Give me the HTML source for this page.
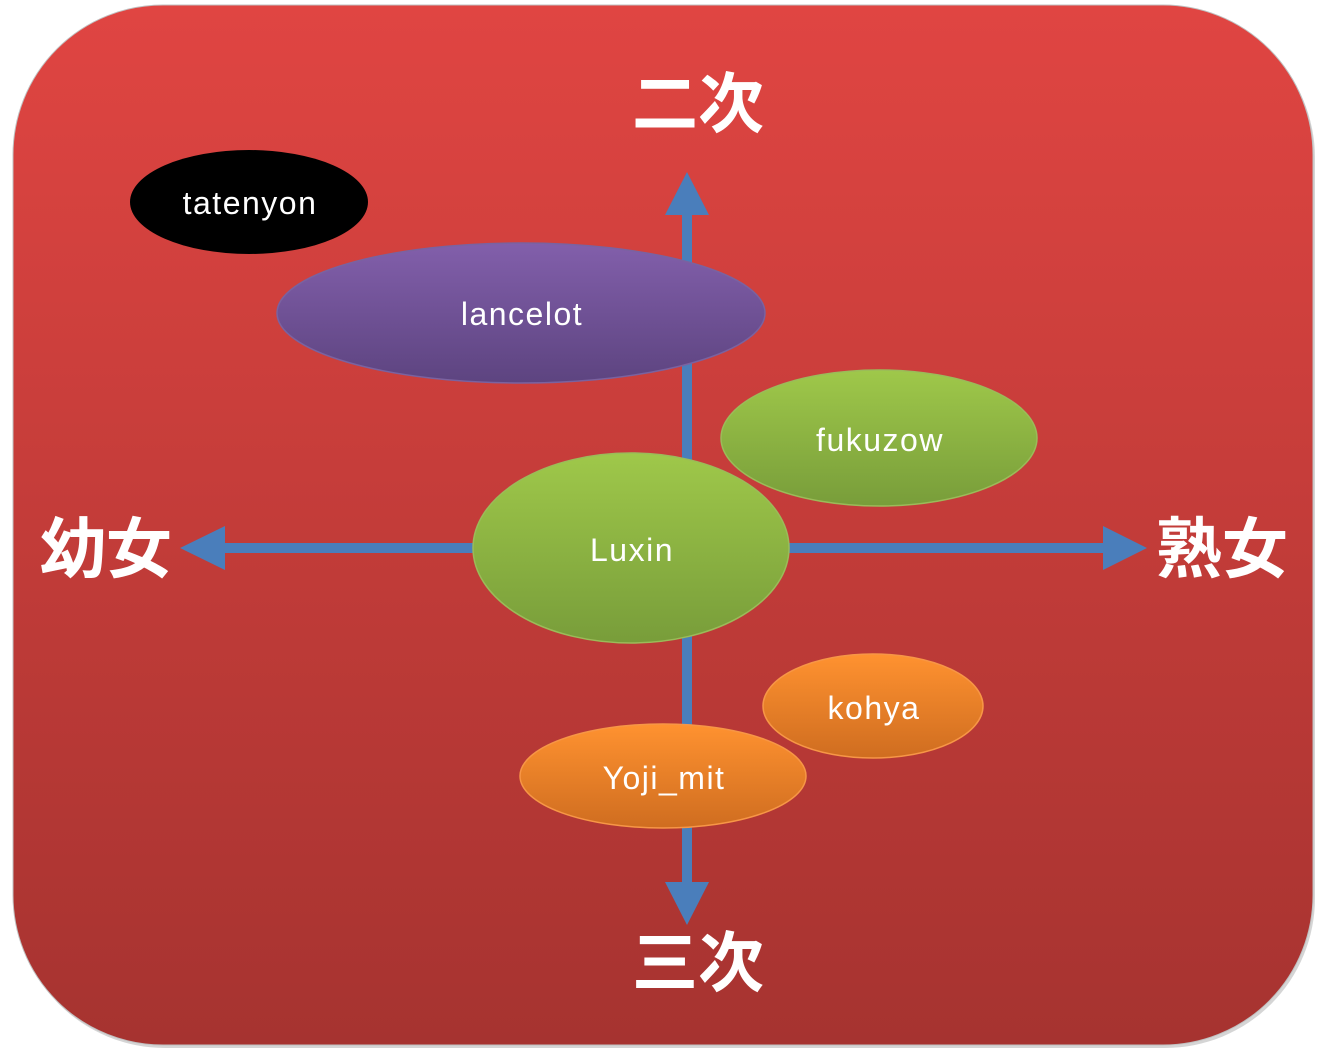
<!DOCTYPE html>
<html><head><meta charset="utf-8"><style>html,body{margin:0;padding:0;background:#fff;width:1330px;height:1057px;overflow:hidden}</style></head>
<body>
<svg width="1330" height="1057" xmlns="http://www.w3.org/2000/svg">
<defs>
<linearGradient id="bg" x1="0" y1="0" x2="0" y2="1"><stop offset="0" stop-color="#e04542"/><stop offset="1" stop-color="#a63330"/></linearGradient>
<linearGradient id="pu" x1="0" y1="0" x2="0" y2="1"><stop offset="0" stop-color="#825fab"/><stop offset="1" stop-color="#5d4480"/></linearGradient>
<linearGradient id="gr" x1="0" y1="0" x2="0" y2="1"><stop offset="0" stop-color="#9fc84a"/><stop offset="1" stop-color="#789d3a"/></linearGradient>
<linearGradient id="or" x1="0" y1="0" x2="0" y2="1"><stop offset="0" stop-color="#ff9230"/><stop offset="1" stop-color="#cf6d20"/></linearGradient>
</defs>
<rect x="15" y="8" width="1300" height="1040" rx="150" fill="#888" opacity="0.35"/>
<rect x="13" y="5" width="1300" height="1040" rx="150" fill="url(#bg)" stroke="#c0c0c0" stroke-width="1"/>
<g fill="#4a7ebb" stroke="none">
<rect x="682" y="212" width="10" height="672"/>
<polygon points="687,172 665,215 709,215"/>
<polygon points="687,925 665,882 709,882"/>
<rect x="222" y="543" width="886" height="10"/>
<polygon points="180,548 225,526 225,570"/>
<polygon points="1147,548 1103,526 1103,570"/>
</g>
<g font-family="'Liberation Sans','Noto Sans CJK JP',sans-serif" font-weight="bold" font-size="66" fill="#fff" text-anchor="middle">
<text x="698" y="127">二次</text>
<text x="106" y="572">幼女</text>
<text x="1222" y="572">熟女</text>
<text x="698" y="986">三次</text>
</g>
<g stroke-width="1.5">
<ellipse cx="249" cy="202" rx="119" ry="52" fill="#000"/>
<ellipse cx="521" cy="313" rx="244" ry="70" fill="url(#pu)" stroke="#7a62a0"/>
<ellipse cx="879" cy="438" rx="158" ry="68" fill="url(#gr)" stroke="#9bbb59"/>
<ellipse cx="631" cy="548" rx="158" ry="95" fill="url(#gr)" stroke="#9bbb59"/>
<ellipse cx="873" cy="706" rx="110" ry="52" fill="url(#or)" stroke="#f79646"/>
<ellipse cx="663" cy="776" rx="143" ry="52" fill="url(#or)" stroke="#f79646"/>
</g>
<g font-family="'Liberation Sans',sans-serif" font-size="32" letter-spacing="1.5" fill="#fff" text-anchor="middle">
<text x="250" y="214">tatenyon</text>
<text x="522" y="325">lancelot</text>
<text x="880" y="451">fukuzow</text>
<text x="632" y="561">Luxin</text>
<text x="874" y="719">kohya</text>
<text x="664" y="789">Yoji_mit</text>
</g>
</svg>
</body></html>
